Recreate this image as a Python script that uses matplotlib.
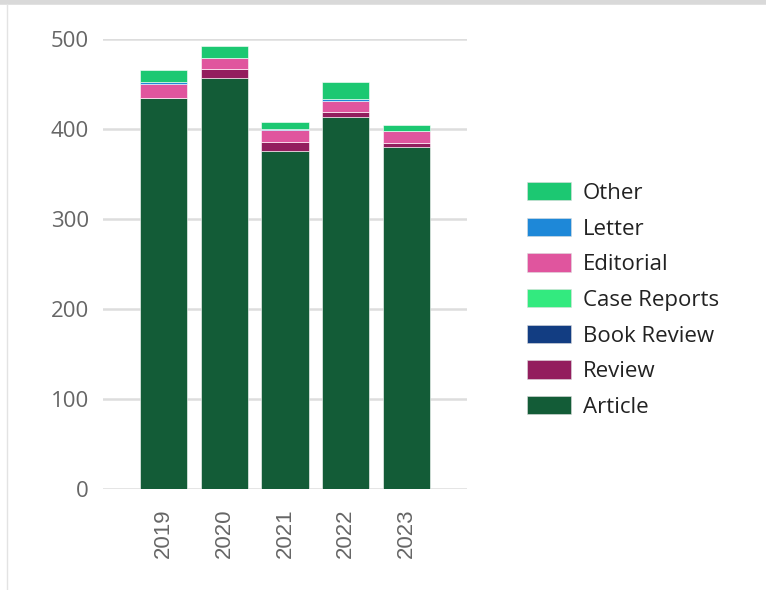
import matplotlib.pyplot as plt
import numpy as np
from matplotlib.patches import Patch
from matplotlib.lines import Line2D

years = ["2019", "2020", "2021", "2022", "2023"]

# stacked bottom -> top
article = [434, 457, 376, 413, 380]
review = [1, 10, 10, 6, 4]
book_review = [0, 0, 0, 0, 0]
case_reports = [0, 0, 0, 0, 0]
editorial = [15, 12, 13, 12, 14]
letter = [2, 0, 1, 2, 0]
other = [13, 13, 8, 19, 7]

series = [
    ("Article", article, "#135c37"),
    ("Review", review, "#931e5e"),
    ("Book Review", book_review, "#123d82"),
    ("Case Reports", case_reports, "#33ea7f"),
    ("Editorial", editorial, "#e0559e"),
    ("Letter", letter, "#1e88d8"),
    ("Other", other, "#1cc872"),
]

plt.rcParams["font.family"] = ["Open Sans", "DejaVu Sans"]

W, H = 766, 590
fig = plt.figure(figsize=(W / 100, H / 100), dpi=100)
ax = fig.add_axes([103 / W, (H - 489) / H, (467 - 103) / W, (489 - 39) / H])

x = np.arange(len(years))
bottom = np.zeros(len(years))
for name, vals, color in series:
    vals = np.array(vals, dtype=float)
    ax.bar(x, vals, bottom=bottom, width=0.78, color=color,
           edgecolor="#ffffff", linewidth=0.4, zorder=3)
    bottom += vals

ax.set_xlim(-1, len(years))
ax.set_ylim(0, 500)
ax.set_yticks([0, 100, 200, 300, 400, 500])
ax.set_xticks(x)
ax.set_xticklabels(years, rotation=90, family=["Liberation Sans", "DejaVu Sans"])
ax.yaxis.grid(True, color="#dddddd", linewidth=1.8, zorder=0)
ax.set_axisbelow(True)
for s in ax.spines.values():
    s.set_visible(False)
ax.tick_params(axis="both", length=0, labelsize=16, colors="#666666")
ax.tick_params(axis="y", pad=10)
ax.tick_params(axis="x", pad=14)

handles = [Patch(facecolor=c, edgecolor="#dddddd", linewidth=0.4)
           for _, _, c in series[::-1]]
labels = [n for n, _, _ in series[::-1]]
fig.legend(handles, labels, loc="upper left",
           bbox_to_anchor=(527 / W, (H - 182) / H),
           frameon=False, fontsize=16, handlelength=1.98, handleheight=0.9,
           labelspacing=0.62, handletextpad=0.54, borderpad=0,
           borderaxespad=0, labelcolor="#222222")

# outer frame lines of the screenshot
fig.add_artist(Line2D([0, 1], [1 - 2 / H, 1 - 2 / H], transform=fig.transFigure,
                      color="#d9d9d9", linewidth=4))
fig.add_artist(Line2D([7 / W, 7 / W], [0, 1 - 4 / H], transform=fig.transFigure,
                      color="#e3e3e3", linewidth=1))

fig.savefig("out.png", dpi=100)
